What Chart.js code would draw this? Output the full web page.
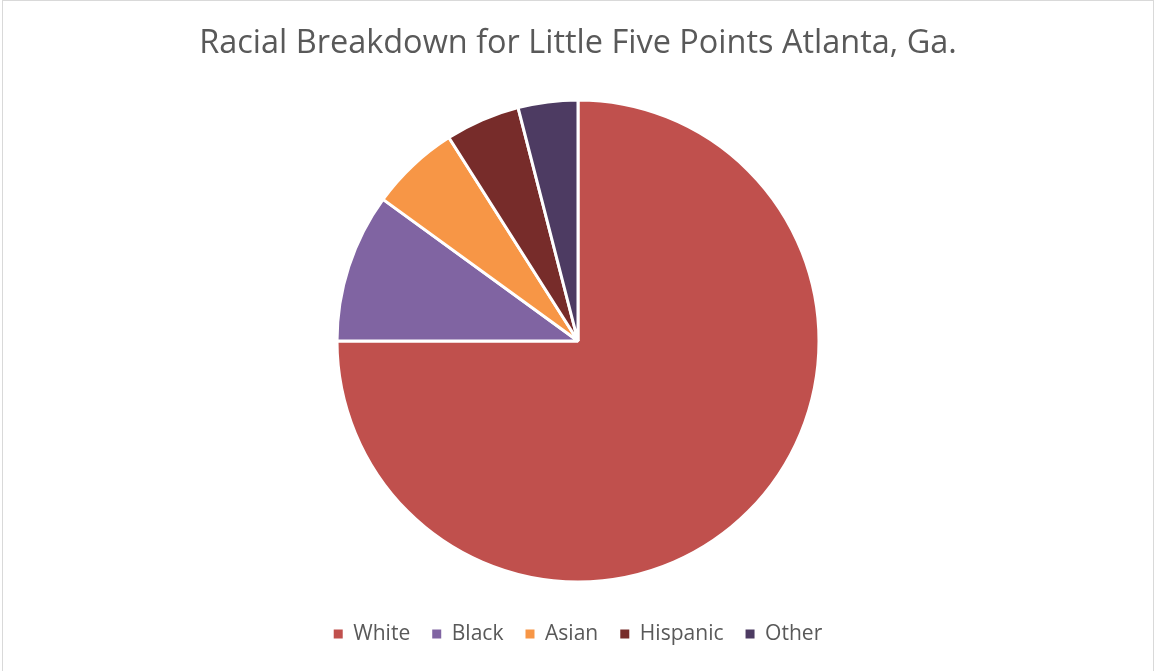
<!DOCTYPE html>
<html>
<head>
<meta charset="utf-8">
<script src="https://cdn.jsdelivr.net/npm/chart.js@4.4.1/dist/chart.umd.min.js"></script>
<style>
  html, body { margin: 0; padding: 0; background: #ffffff; overflow: hidden; }
  #frame { position: absolute; left: 2px; top: 0; width: 1152px; height: 680px; border: 1px solid #d9d9d9; box-sizing: border-box; }
  #wrap { position: absolute; left: 0; top: 0; width: 1155px; height: 671px; }
</style>
</head>
<body>
<div id="frame"></div>
<div id="wrap"><canvas id="c" width="1155" height="671"></canvas></div>
<script>
const titleText = "Racial Breakdown for Little Five Points Atlanta, Ga.";
const categories = ["White", "Black", "Asian", "Hispanic", "Other"];
const shares = [75, 10, 6, 5, 4];
const sliceColors = ["#C0504D", "#8064A2", "#F79646", "#772C2A", "#4D3B62"];

const FAMILY = "'Open Sans'";
function fitSize(text, target) {
  const ctx = document.createElement("canvas").getContext("2d");
  ctx.font = "100px " + FAMILY;
  return 100 * target / ctx.measureText(text).width;
}
const titleSize = fitSize(titleText, 758);
const legendSize = fitSize("White", 57);
const legendPad = 22;
const titleCenter = 44;
const titleTop = titleCenter - titleSize * 0.6;
const titleBottom = 100 - titleTop - titleSize * 1.2;
const legendTitleH = 52 - legendPad - legendSize / 2;
const legendTitleFont = Math.min(10, legendTitleH / 1.2);
const legendTitleGap = Math.max(0, legendTitleH - legendTitleFont * 1.2);
const bottomPad = 27 - legendSize / 2;

new Chart(document.getElementById("c"), {
  type: "pie",
  data: {
    labels: categories,
    datasets: [{
      data: shares,
      backgroundColor: sliceColors,
      borderColor: "#ffffff",
      borderWidth: 3,
      hoverOffset: 0
    }]
  },
  options: {
    responsive: false,
    animation: false,
    radius: 241,
    layout: { padding: { left: 1, right: 0, top: 0, bottom: bottomPad } },
    plugins: {
      tooltip: { enabled: false },
      title: {
        display: true,
        text: titleText,
        color: "#595959",
        font: { family: FAMILY, size: titleSize, weight: "normal", lineHeight: 1.2 },
        padding: { top: titleTop, bottom: titleBottom }
      },
      legend: {
        position: "bottom",
        title: { display: true, text: " ", font: { size: legendTitleFont, lineHeight: 1.2 }, padding: { top: 0, bottom: legendTitleGap } },
        labels: {
          boxWidth: 9,
          boxHeight: 9,
          padding: legendPad,
          color: "#595959",
          font: { family: FAMILY, size: legendSize },
          generateLabels: (chart) =>
            Chart.overrides.pie.plugins.legend.labels.generateLabels(chart).map(item => ({
              ...item,
              lineWidth: 0,
              strokeStyle: item.fillStyle
            }))
        }
      }
    }
  }
});
</script>
</body>
</html>
